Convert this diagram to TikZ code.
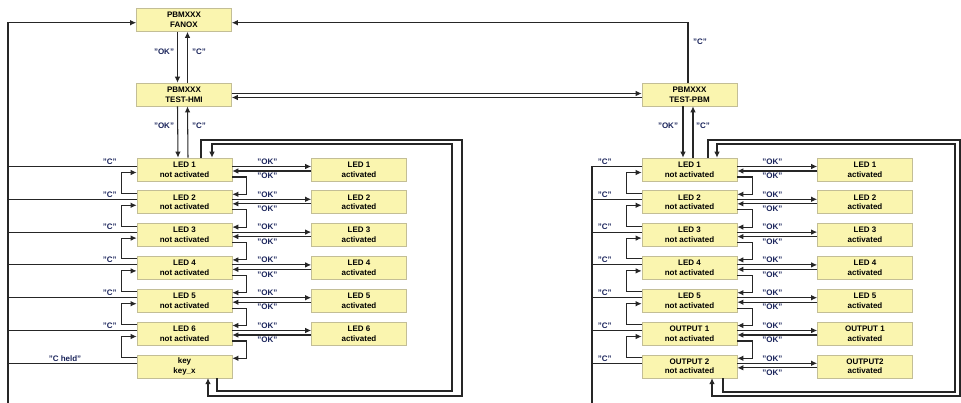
\documentclass[tikz,border=0pt]{standalone}
\usepackage{fontspec}
\setmainfont{Liberation Sans}
\usetikzlibrary{arrows.meta,calc}
\definecolor{boxfill}{RGB}{250,245,175}
\definecolor{boxdraw}{RGB}{195,190,150}
\definecolor{lbl}{RGB}{25,35,90}
\tikzset{
 box/.style={draw=boxdraw, fill=boxfill, line width=0.6pt, minimum width=95pt, minimum height=23pt, inner sep=0pt, align=center, font=\fontsize{8}{9.8}\selectfont\bfseries},
 lab/.style={text=lbl, font=\fontsize{8}{9}\selectfont\bfseries, inner sep=0pt},
 conn/.style={line width=1.05pt, draw=black!85},
 arr/.style={conn, -{Latex[length=6pt,width=5.5pt]}},
}
\begin{document}
\begin{tikzpicture}[x=1pt,y=-1pt]
\useasboundingbox (0,0) rectangle (961,403);
% top nodes
\node[box] (fanox) at (184,20) {PBMXXX\\FANOX};
\node[box] (hmi) at (184,94.5) {PBMXXX\\TEST-HMI};
\node[box] (pbm) at (689.5,94.5) {PBMXXX\\TEST-PBM};
% left column
\foreach \i in {1,...,6} {
  \node[box] (la\i) at (184.5,{169.5+32.8*(\i-1)}) {LED \i\\not activated};
  \node[box] (lb\i) at (359,{169.5+32.8*(\i-1)}) {LED \i\\activated};
}
\node[box] (la7) at (184.5,366.3) {key\\key\_x};
% right column
\foreach \i in {1,...,5} {
  \node[box] (ra\i) at (689.5,{169.5+32.8*(\i-1)}) {LED \i\\not activated};
  \node[box] (rb\i) at (865,{169.5+32.8*(\i-1)}) {LED \i\\activated};
}
\node[box] (ra6) at (689.5,333.5) {OUTPUT 1\\not activated};
\node[box] (rb6) at (865,333.5) {OUTPUT 1\\activated};
\node[box] (ra7) at (689.5,366.3) {OUTPUT 2\\not activated};
\node[box] (rb7) at (865,366.3) {OUTPUT2\\activated};

% FANOX <-> TEST-HMI
\draw[arr] ([xshift=-6.5pt]fanox.south) -- ([xshift=-6.5pt]hmi.north);
\draw[arr] ([xshift=3.5pt]hmi.north) -- ([xshift=3.5pt]fanox.south);
\node[lab] (okA) at (164,52) {"OK"};
\node[lab] (cA) at (199,52) {"C"};
% TEST-HMI <-> LED1
\draw[arr] ([xshift=-6.5pt]hmi.south) -- ([xshift=-6.5pt]la1.north);
\draw[arr] ([xshift=3.5pt]la1.north) -- ([xshift=3.5pt]hmi.south);
\node[lab] (okB) at (164,126) {"OK"};
\node[lab] (cB) at (199,126) {"C"};
% TEST-PBM <-> LED1 right
\draw[arr] ([xshift=-6.5pt]pbm.south) -- ([xshift=-6.5pt]ra1.north);
\draw[arr] ([xshift=3.5pt]ra1.north) -- ([xshift=3.5pt]pbm.south);
\node[lab] (okC) at (668,126) {"OK"};
\node[lab] (cC) at (703,126) {"C"};
% HMI <-> PBM
\draw[arr] ([yshift=1pt]hmi.east) -- ([yshift=1pt]pbm.west);
\draw[arr] ([yshift=-3pt]pbm.west) -- ([yshift=-3pt]hmi.east);
% PBM -> FANOX
\draw[arr] ([xshift=-1.5pt]pbm.north) |- ([yshift=-2.7pt]fanox.east);
\node[lab] (cD) at (700,42) {"C"};

% left bus
\coordinate (lbus) at (8,403);
\draw[arr] (lbus) |- ([yshift=-2.7pt]fanox.west);
\foreach \i in {1,...,6} {
  \draw[conn] ([yshift=3pt]la\i.west) -- ([yshift=3pt]la\i.west -| lbus);
  \node[lab] (lc\i) at ([xshift=-27pt,yshift=8pt]la\i.west) {"C"};
}
\draw[conn] ([yshift=2.5pt]la7.west) -- ([yshift=2.5pt]la7.west -| lbus);
\node[lab] (lc7) at (65,359) {"C held"};

% right bus
\coordinate (rbus) at (592,403);
\draw[conn] ([yshift=3pt]ra1.west -| rbus) -- (rbus);
\foreach \i in {1,...,7} {
  \draw[conn] ([yshift=3pt]ra\i.west) -- ([yshift=3pt]ra\i.west -| rbus);
  \node[lab] (rc\i) at ([xshift=-37pt,yshift=8pt]ra\i.west) {"C"};
}

% chain loops
\foreach \i/\j in {1/2,2/3,3/4,4/5,5/6,6/7} {
  \draw[arr] ([yshift=9pt]la\j.west) -- ++(-15,0) |- ([yshift=-3pt]la\i.west);
  \draw[arr] ([yshift=-7.5pt]la\i.east) -- ++(14,0) |- ([yshift=8pt]la\j.east);
  \draw[arr] ([yshift=9pt]ra\j.west) -- ++(-15,0) |- ([yshift=-3pt]ra\i.west);
  \draw[arr] ([yshift=-7.5pt]ra\i.east) -- ++(15,0) |- ([yshift=8pt]ra\j.east);
}
% OK arrows
\foreach \i in {1,...,6} {
  \draw[arr] ([yshift=3pt]la\i.east) -- ([yshift=3pt]lb\i.west);
  \draw[arr] ([yshift=-1.5pt]lb\i.west) -- ([yshift=-1.5pt]la\i.east);
  \node[lab] (lok\i) at ([xshift=35pt,yshift=8pt]la\i.east) {"OK"};
  \node[lab] (lokb\i) at ([xshift=35pt,yshift=-6.5pt]la\i.east) {"OK"};
}
\foreach \i in {1,...,7} {
  \draw[arr] ([yshift=3pt]ra\i.east) -- ([yshift=3pt]rb\i.west);
  \draw[arr] ([yshift=-1.5pt]rb\i.west) -- ([yshift=-1.5pt]ra\i.east);
  \node[lab] (rok\i) at ([xshift=35pt,yshift=8pt]ra\i.east) {"OK"};
  \node[lab] (rokb\i) at ([xshift=35pt,yshift=-6.5pt]ra\i.east) {"OK"};
}

% feedback loops left
\coordinate (lo1) at (462,140); \coordinate (lo2) at (462,396);
\coordinate (li1) at (452,144); \coordinate (li2) at (452,391);
\draw[arr] ([xshift=16.5pt]la1.north) |- (lo1) -- (lo2) -| ([xshift=23.5pt]la7.south);
\draw[arr] ([xshift=32.5pt]la7.south) |- (li2) -- (li1) -| ([xshift=27.5pt]la1.north);
% feedback loops right
\coordinate (ro1) at (960,140); \coordinate (ro2) at (960,396);
\coordinate (ri1) at (955,144); \coordinate (ri2) at (955,392);
\draw[arr] ([xshift=18.5pt]ra1.north) |- (ro1) -- (ro2) -| ([xshift=22.5pt]ra7.south);
\draw[arr] ([xshift=33.5pt]ra7.south) |- (ri2) -- (ri1) -| ([xshift=27.5pt]ra1.north);
\end{tikzpicture}
\end{document}
